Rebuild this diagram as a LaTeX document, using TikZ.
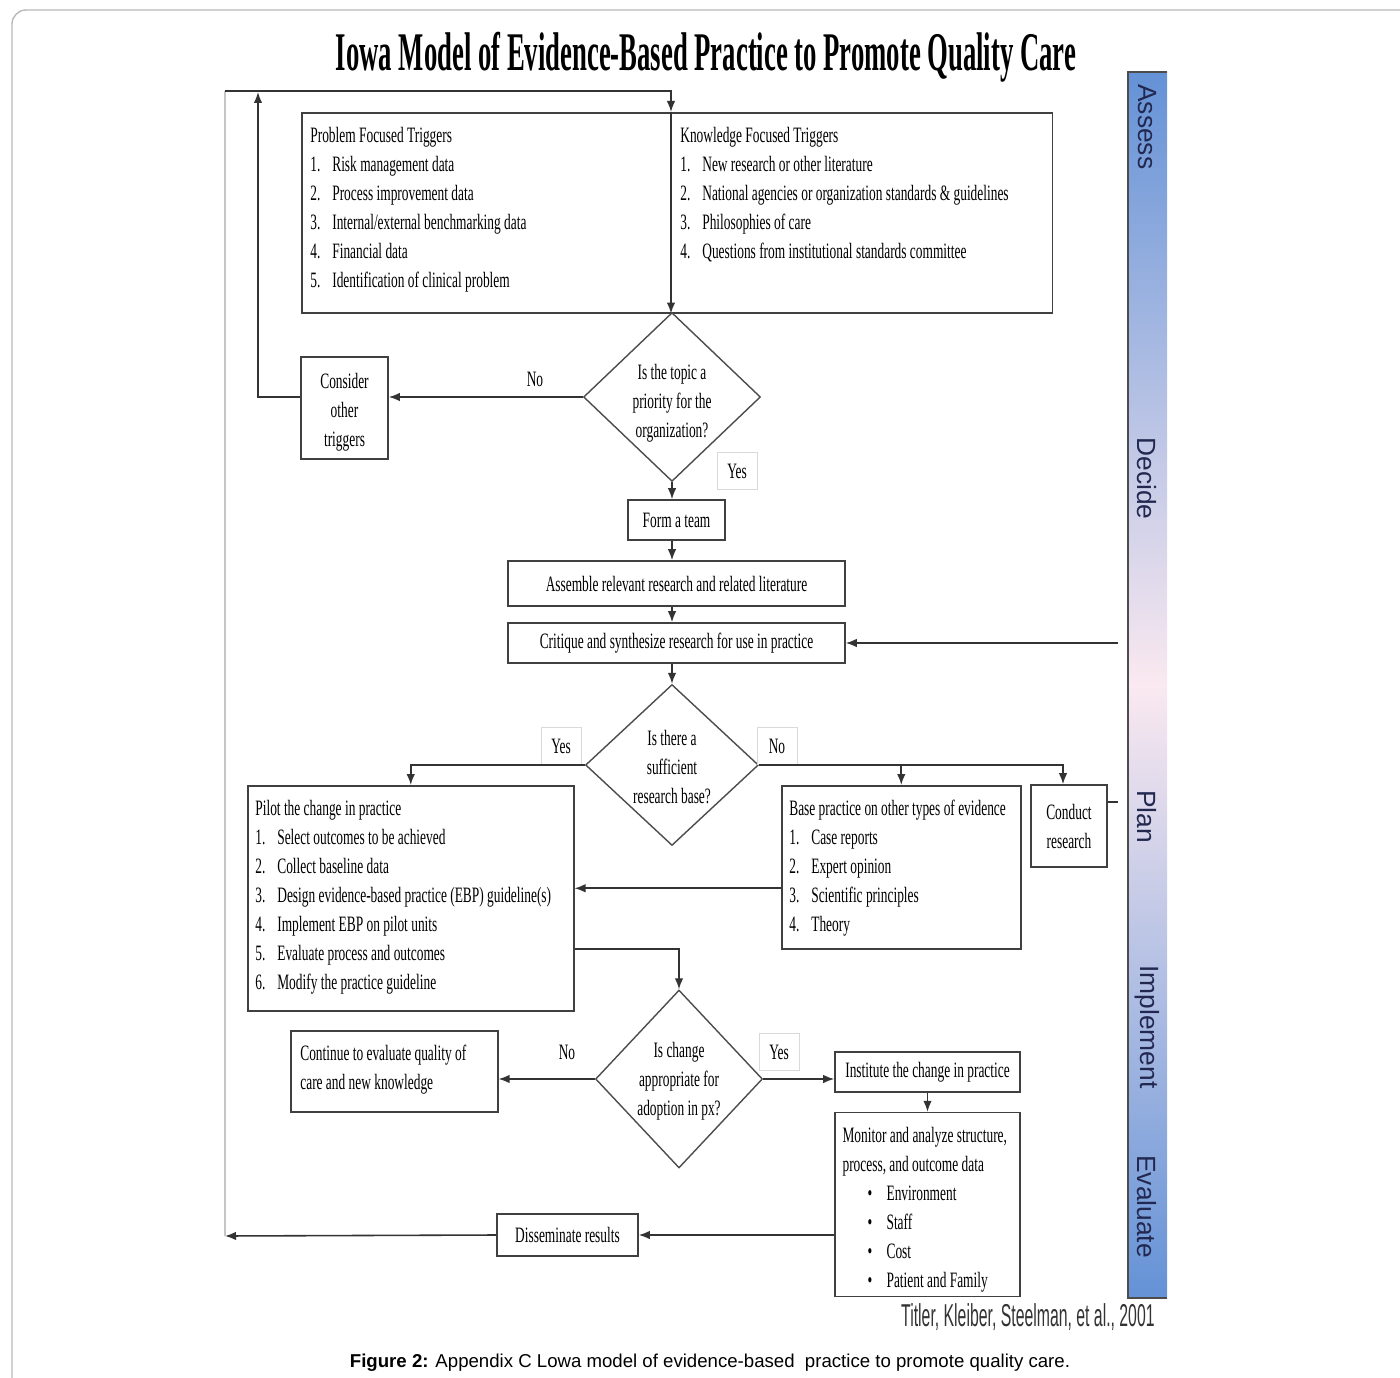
\documentclass[tikz,border=0pt]{standalone}
\usepackage{fontspec}
\setmainfont{Liberation Serif}
\newfontfamily\narrowserif[FakeStretch=0.61]{Liberation Serif}
\newfontfamily\titleserif[FakeStretch=0.49]{Liberation Serif}
\newfontfamily\narrowsans[FakeStretch=0.5]{Liberation Sans}
\newfontfamily\plainsans{Liberation Sans}
\usepackage{xcolor}
\usetikzlibrary{shapes.geometric,arrows.meta,positioning,calc}

\definecolor{barblue}{RGB}{100,146,214}
\definecolor{barpink}{RGB}{250,233,240}
\definecolor{phasetext}{RGB}{35,40,80}

\newcommand{\bodyfont}{\narrowserif\fontsize{12.5}{16.5}\selectfont}
\newcommand{\listno}[1]{\makebox[0.44cm][l]{#1}}
\newcommand{\listbul}{\hspace*{0.5cm}\makebox[0.38cm][l]{\textbullet}}

\begin{document}
\begin{tikzpicture}[x=0.02cm, y=-0.02cm,
    >={Latex[length=2.2mm,width=1.7mm]},
    box/.style={draw=black!75, line width=0.9pt, inner sep=0pt, font=\bodyfont, align=center},
    decision/.style={diamond, draw=black!70, line width=0.8pt, inner sep=0pt, align=center, font=\bodyfont},
    listtext/.style={anchor=north west, align=left, inner sep=0pt, font=\bodyfont},
    tag/.style={draw=gray!30, line width=0.4pt, minimum width=0.8cm, minimum height=0.75cm, inner sep=0pt, font=\bodyfont},
    answer/.style={inner sep=0pt, font=\bodyfont},
    link/.style={draw=black!80, line width=0.9pt},
    phase/.style={rotate=-90, anchor=west, inner sep=0pt, text=phasetext, font=\plainsans\fontsize{15}{18}\selectfont}
]
    \useasboundingbox (0,0) rectangle (1400,1378);

    % --- Page frame and title ---
    \draw[gray!55, line width=0.8pt, rounded corners=8] (12,1382) -- (12,10) -- (1404,10);
    \node[font=\titleserif\bfseries\fontsize{31}{36}\selectfont] (title) at (706,57)
        {Iowa Model of Evidence-Based Practice to Promote Quality Care};

    % --- Phase bar ---
    \shade[top color=barblue, bottom color=barblue, middle color=barpink] (1128,72) rectangle (1167,1298);
    \draw[black!70, line width=0.8pt] (1167,72) -- (1128,72) -- (1128,1298) -- (1167,1298);
    \node[phase] (assess) at (1147,84) {Assess};
    \node[phase] (decide) at (1147,437) {Decide};
    \node[phase] (plan) at (1147,790) {Plan};
    \node[phase] (implement) at (1147,965) {Implement};
    \node[phase] (evaluate) at (1147,1155) {Evaluate};

    % --- Triggers ---
    \node[box, minimum width=15.02cm, minimum height=4cm, anchor=north west] (trig) at (301,112) {};
    \node[listtext] (probtxt) at ([shift={(9,15)}]trig.north west)
        {Problem Focused Triggers\\ \listno{1.}Risk management data\\ \listno{2.}Process improvement data\\
         \listno{3.}Internal/external benchmarking data\\ \listno{4.}Financial data\\
         \listno{5.}Identification of clinical problem};
    \node[listtext] (knowtxt) at ([shift={(379,15)}]trig.north west)
        {Knowledge Focused Triggers\\ \listno{1.}New research or other literature\\
         \listno{2.}National agencies or organization standards \& guidelines\\
         \listno{3.}Philosophies of care\\ \listno{4.}Questions from institutional standards committee};

    \coordinate (loopTL) at (225,91);
    \coordinate (loopTR) at (671,91);
    \coordinate (loopBL) at (225,1236);
    \coordinate (otherup) at (258,92);

    % --- Priority decision ---
    \node[decision, minimum width=3.54cm, minimum height=3.24cm] (prio) at (672,397)
        {\rule{0pt}{15.5pt}Is the topic a\\ priority for the\\ organization?};
    \node[box, minimum width=1.74cm, minimum height=2.04cm] (other) at (344.5,408)
        {\rule{0pt}{13pt}Consider\\ other\\ triggers};
    \node[answer] (nopri) at (535,379) {No};
    \node[tag] (yespri) at (737,471) {Yes};

    \node[box, minimum width=1.94cm, minimum height=0.8cm] (team) at (676.5,520) {Form a team};
    \node[box, minimum width=6.74cm, minimum height=0.9cm] (assemble) at (676.5,583.5)
        {Assemble relevant research and related literature};
    \node[box, minimum width=6.74cm, minimum height=0.8cm] (critique) at (676.5,643)
        {Critique and synthesize research for use in practice};

    % --- Research base decision ---
    \node[decision, minimum width=3.46cm, minimum height=3.22cm] (suff) at (672,765)
        {\rule{0pt}{11.5pt}Is there a\\ sufficient\\ research base?};
    \node[tag] (yessuf) at (561,746) {Yes};
    \node[tag] (nosuf) at (777,746) {No};

    \node[box, minimum width=6.52cm, minimum height=4.5cm, anchor=north west] (pilot) at (247,785) {};
    \node[listtext] (pilottxt) at ([shift={(8,15)}]pilot.north west)
        {Pilot the change in practice\\ \listno{1.}Select outcomes to be achieved\\
         \listno{2.}Collect baseline data\\ \listno{3.}Design evidence-based practice (EBP) guideline(s)\\
         \listno{4.}Implement EBP on pilot units\\ \listno{5.}Evaluate process and outcomes\\
         \listno{6.}Modify the practice guideline};
    \node[box, minimum width=4.78cm, minimum height=3.26cm, anchor=north west] (evid) at (781,785) {};
    \node[listtext] (evidtxt) at ([shift={(8,15)}]evid.north west)
        {Base practice on other types of evidence\\ \listno{1.}Case reports\\ \listno{2.}Expert opinion\\
         \listno{3.}Scientific principles\\ \listno{4.}Theory};
    \node[box, minimum width=1.52cm, minimum height=1.64cm] (conduct) at (1069,826) {Conduct\\ research};
    \coordinate (fbstub) at (1118,802);
    \coordinate (fbtop) at (1118,643);

    % --- Adoption decision ---
    \node[decision, minimum width=3.34cm, minimum height=3.56cm] (adopt) at (679,1079)
        {\rule{0pt}{11pt}Is change\\ appropriate for\\ adoption in px?};
    \node[answer] (noadopt) at (567,1052) {No};
    \node[tag] (yesadopt) at (779,1052) {Yes};
    \node[box, minimum width=4.14cm, minimum height=1.62cm, anchor=north west] (continue) at (290,1030) {};
    \node[listtext] (conttxt) at ([shift={(10,15)}]continue.north west)
        {Continue to evaluate quality of\\ care and new knowledge};
    \node[box, minimum width=3.7cm, minimum height=0.8cm] (institute) at (927.5,1072) {Institute the change in practice};
    \node[box, minimum width=3.7cm, minimum height=3.68cm, below=0.38cm of institute] (monitor) {};
    \node[listtext] (montxt) at ([shift={(8,15)}]monitor.north west)
        {Monitor and analyze structure,\\ process, and outcome data\\ \listbul Environment\\ \listbul Staff\\
         \listbul Cost\\ \listbul Patient and Family};
    \node[box, minimum width=2.82cm, minimum height=0.84cm] (dissem) at (567.5,1235) {Disseminate results};

    % --- Source and caption ---
    \node[anchor=base east, inner sep=0pt, font=\narrowsans\fontsize{18}{21}\selectfont, text=black!80] (cite) at (1155,1326)
        {Titler, Kleiber, Steelman, et al., 2001};
    \node[font=\plainsans\fontsize{10.6}{12}\selectfont] (caption) at (710,1363)
        {\textbf{Figure 2:} Appendix C Lowa model of evidence-based\ \ practice to promote quality care.};

    % --- Connectors ---
    \draw[link,->] (dissem.west) -- (loopBL);
    \draw[gray!45, line width=0.6pt] (loopBL) -- (loopTL);
    \draw[link,->] (loopTL) -- (loopTR) -- (loopTR |- trig.north);
    \draw[link,->] (loopTR |- trig.north) -- (loopTR |- trig.south);
    \draw[link,->] (prio.west) -- (prio.west -| other.east);
    \draw[link,->] (prio.west -| other.west) -| (otherup);
    \draw[link,->] (prio.south) -- (prio.south |- team.north);
    \draw[link,->] (prio.south |- team.south) -- (prio.south |- assemble.north);
    \draw[link,->] (prio.south |- assemble.south) -- (prio.south |- critique.north);
    \draw[link,->] (prio.south |- critique.south) -- (suff.north);
    \draw[link,->] (fbtop) -- (critique.east);
    \draw[link] (fbstub -| conduct.east) -- (fbstub);
    \draw[link,->] (suff.west) -| (pilot.north);
    \draw[link,->] (suff.east) -| ([xshift=-0.12cm]conduct.north);
    \draw[link,->] (suff.east -| evid.north) -- (evid.north);
    \draw[link,->] ([yshift=-0.42cm]evid.west) -- ([yshift=-0.42cm]evid.west -| pilot.east);
    \draw[link,->] ([yshift=-1.01cm]pilot.east) -| (adopt.north);
    \draw[link,->] (adopt.west) -- (adopt.west -| continue.east);
    \draw[link,->] (adopt.east) -- (adopt.east -| institute.west);
    \draw[link,->] (institute.south) -- (monitor.north);
    \draw[link,->] (monitor.west |- dissem.east) -- (dissem.east);
\end{tikzpicture}
\end{document}
